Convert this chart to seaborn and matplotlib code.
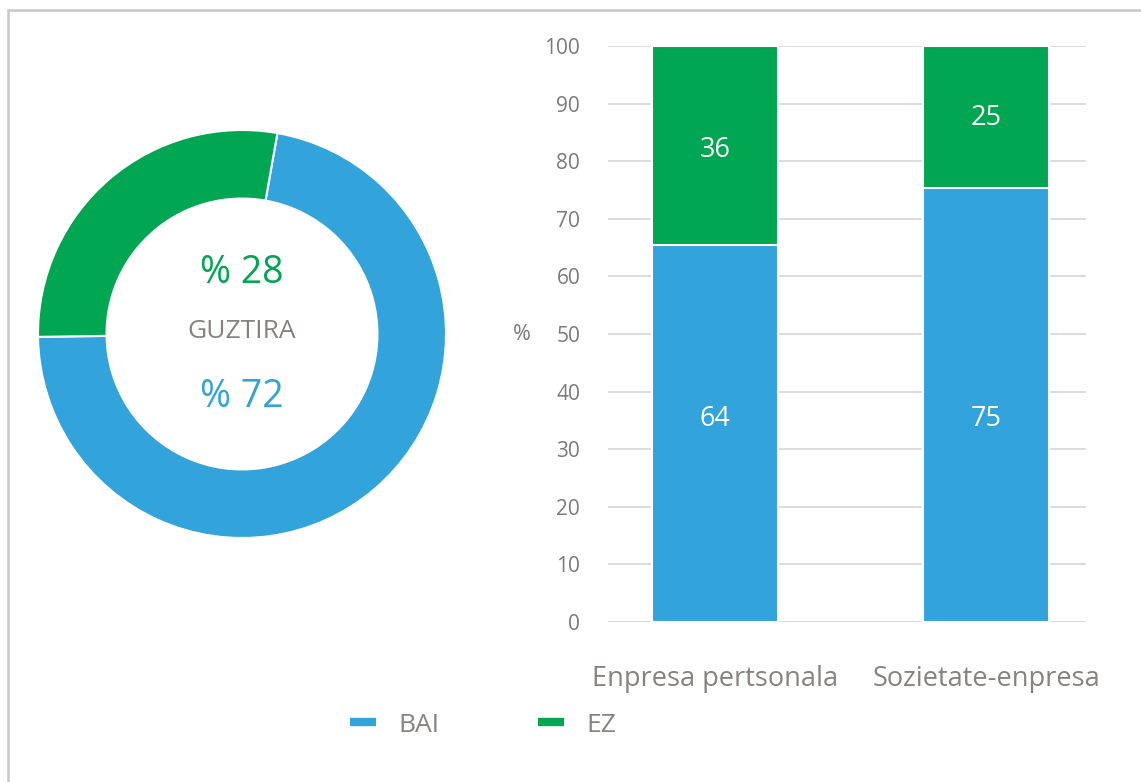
import numpy as np
import pandas as pd
import matplotlib
matplotlib.use('Agg')
import matplotlib.pyplot as plt
from matplotlib.patches import Rectangle
from matplotlib.lines import Line2D
import seaborn as sns

sns.set_style('white')
plt.rcParams['font.family'] = ['Open Sans', 'DejaVu Sans']

### datos
series = ['BAI', 'EZ']
guztira = [72, 28]
guztira_txt = ['% 72', '% 28']
kategoriak = ['Enpresa pertsonala', 'Sozietate-enpresa']
bai = [65.5, 75.4]
ez = [34.5, 24.6]
bai_lbl = ['64', '75']
ez_lbl = ['36', '25']

urdina = '#33A3DC'
berdea = '#00A651'
grisa = '#878280'

fig = plt.figure(figsize=(11.41, 7.82), dpi=100)

# marco gris
fig.patches.append(Rectangle((8/1141, -0.1), 1.2, 1 - 10/782 + 0.1, transform=fig.transFigure,
                             fill=False, edgecolor='#c8c8c8', lw=1.8, zorder=0))

### donut
ax1 = fig.add_axes([38/1141, 244/782, 408/1141, 408/782])
ax1.pie(guztira, colors=[urdina, berdea], startangle=80, counterclock=False, radius=1,
        wedgeprops=dict(width=0.336, edgecolor='white', linewidth=1.5))
ax1.set_xlim(-1, 1)
ax1.set_ylim(-1, 1)
ax1.set_aspect('equal')
ax1.text(0, 0.30, guztira_txt[1], color=berdea, fontsize=27, ha='center', va='center')
ax1.text(0, 0.01, 'GUZTIRA', color=grisa, fontsize=19, ha='center', va='center')
ax1.text(0, -0.31, guztira_txt[0], color=urdina, fontsize=27, ha='center', va='center')

### barras apiladas
ax2 = fig.add_axes([608/1141, (782-622)/782, 478/1141, 576/782])
df = pd.DataFrame({'kat': kategoriak, 'BAI': bai, 'EZ': ez})
df['guztira'] = df['BAI'] + df['EZ']
sns.barplot(data=df, x='kat', y='guztira', color=berdea, saturation=1, width=0.465,
            edgecolor='white', linewidth=1.5, ax=ax2, zorder=2)
sns.barplot(data=df, x='kat', y='BAI', color=urdina, saturation=1, width=0.465,
            edgecolor='white', linewidth=1.5, ax=ax2, zorder=3)

# etiquetas: las de arriba centradas entre la etiqueta y 100, las de abajo a una altura comun
y_behe = np.mean(bai) / 2
for i in range(len(kategoriak)):
    ax2.text(i, y_behe, bai_lbl[i], color='white', fontsize=19.5, ha='center', va='center', zorder=5)
    ax2.text(i, (int(bai_lbl[i]) + 100) / 2, ez_lbl[i], color='white', fontsize=19.5,
             ha='center', va='center', zorder=5)

ax2.set_xlim(-0.395, 1.369)
ax2.set_ylim(0, 100)
ax2.set_yticks(range(0, 101, 10))
ax2.yaxis.grid(True, color='#d9d9d9', lw=1.3, zorder=0)
ax2.set_axisbelow(True)
sns.despine(ax=ax2, left=True, bottom=True)
ax2.tick_params(axis='y', length=0, pad=20, labelsize=15, labelcolor='#7a7a7a')
ax2.tick_params(axis='x', length=0, pad=31, labelsize=19.5, labelcolor=grisa)
ax2.set_xlabel('')
ax2.set_ylabel('%', rotation=0, fontsize=15.5, color='#7a7a7a', va='center', ha='center')
ax2.yaxis.set_label_coords(-0.18, 0.5)

### leyenda
handles = [Line2D([0], [0], color=urdina, lw=6, solid_capstyle='butt'),
           Line2D([0], [0], color=berdea, lw=6, solid_capstyle='butt')]
leg = fig.legend(handles, series, loc='center left', bbox_to_anchor=(350/1141, (782-725)/782),
                 ncol=2, frameon=False, fontsize=19, handlelength=1.0, handletextpad=0.85,
                 columnspacing=3.7, borderpad=0, borderaxespad=0)
for t in leg.get_texts():
    t.set_color(grisa)

plt.savefig('out.png', dpi=100)
